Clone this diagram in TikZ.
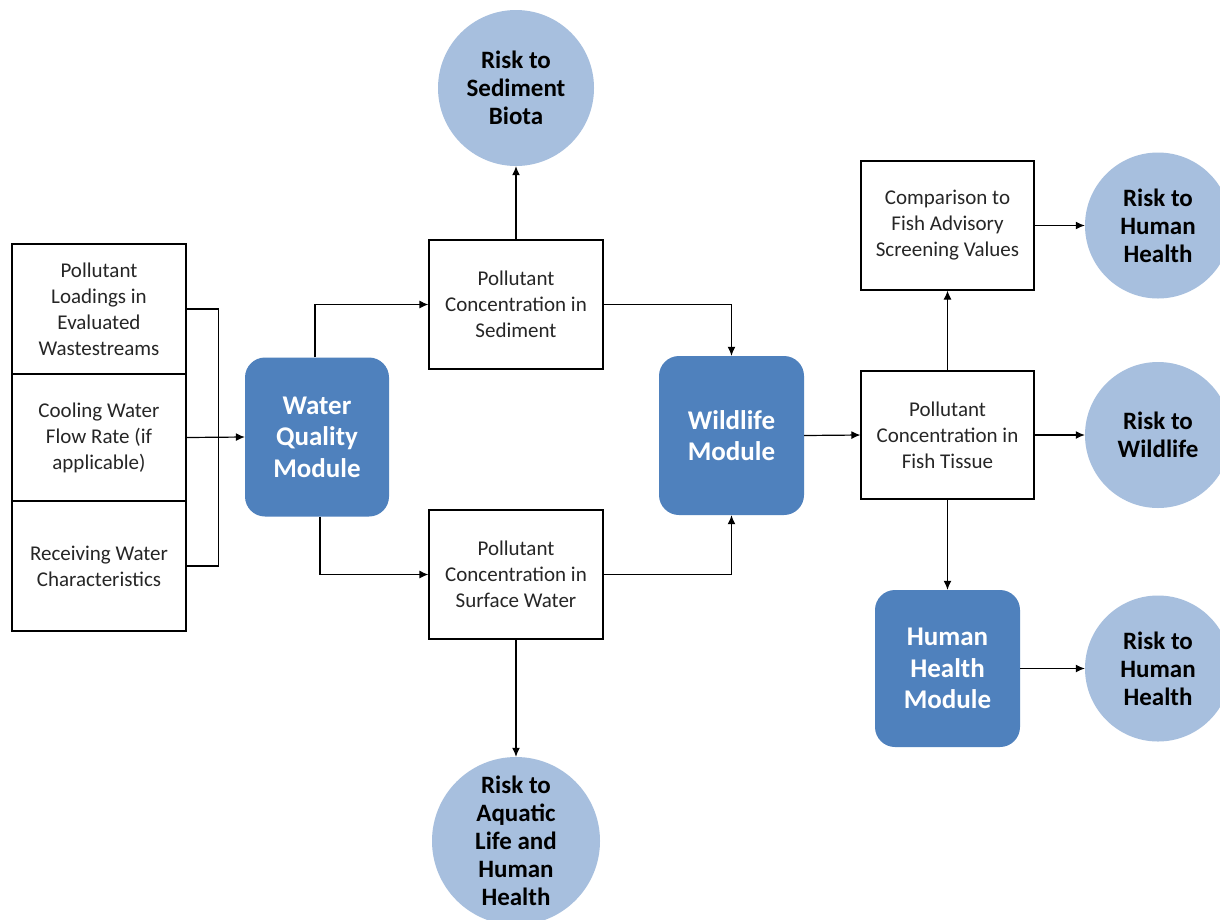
\documentclass[tikz,border=0pt]{standalone}
\usepackage{fontspec}
\setmainfont{Carlito}
\usetikzlibrary{arrows.meta}
\definecolor{modblue}{HTML}{4F81BD}
\definecolor{riskblue}{HTML}{A7BFDE}
\definecolor{boxtext}{HTML}{262626}
\begin{document}
\begin{tikzpicture}[x=1pt,y=-1pt,
  box/.style={draw=black,line width=1.2pt,fill=white,minimum width=174pt,minimum height=129pt,align=center,inner sep=0pt,text=boxtext,font=\fontsize{21}{26}\selectfont},
  module/.style={fill=modblue,rounded corners=20pt,minimum width=145pt,minimum height=159pt,align=center,inner sep=0pt,text=white,font=\fontsize{27}{31.5}\selectfont\bfseries},
  risk/.style={circle,fill=riskblue,minimum size=146pt,inner sep=0pt,align=center,text=black,font=\fontsize{25}{28}\selectfont\bfseries},
  conn/.style={line width=1.2pt,-{Latex[length=9pt,width=8pt]}},
  plainline/.style={line width=1.2pt}]
\useasboundingbox (0,0) rectangle (1220,919);
\fill[white] (0,0) rectangle (1220,919);
% inputs
\node[box,minimum height=130pt] (in1) at (99,309) {Pollutant\\Loadings in\\Evaluated\\Wastestreams};
\node[box,minimum height=127pt] (in2) at (99,437.5) {Cooling Water\\Flow Rate (if\\applicable)};
\node[box,minimum height=130pt] (in3) at (99,566) {Receiving Water\\Characteristics};
% modules
\node[module,minimum width=144pt] (wq) at (317,437) {Water\\Quality\\Module};
\node[module] (wl) at (731.5,435.5) {Wildlife\\Module};
\node[module,minimum height=157pt] (hh) at (947.5,668.5) {Human\\Health\\Module};
% boxes
\node[box] (sed) at (516,304.5) {Pollutant\\Concentration in\\Sediment};
\node[box] (sw) at (516,574.5) {Pollutant\\Concentration in\\Surface Water};
\node[box,minimum width=173pt,minimum height=128pt] (fish) at (947.5,435) {Pollutant\\Concentration in\\Fish Tissue};
\node[box,minimum width=173pt] (comp) at (947.5,225.5) {Comparison to\\Fish Advisory\\Screening Values};
% risks
\node[risk,minimum size=156pt] (rsb) at (516,88) {Risk to\\Sediment\\Biota};
\node[risk,minimum size=168pt] (ral) at (516,841) {Risk to\\Aquatic\\Life and\\Human\\Health};
\node[risk] (rhh1) at (1158,225.5) {Risk to\\Human\\Health};
\node[risk] (rwl) at (1158,435) {Risk to\\Wildlife};
\node[risk] (rhh2) at (1158,668.5) {Risk to\\Human\\Health};
% connectors
\draw[plainline] (in1.east) -- ++(32,0) |- (in3.east);
\draw[conn] (in2.east) -- (wq.west);
\draw[conn] ([xshift=-2pt]wq.north) |- (sed.west);
\draw[conn] ([xshift=3pt]wq.south) |- (sw.west);
\draw[conn] (sed.north) -- (rsb.south);
\draw[conn] (sed.east) -| (wl.north);
\draw[conn] (sw.east) -| (wl.south);
\draw[conn] (sw.south) -- (ral.north);
\draw[conn] (wl.east) -- (fish.west);
\draw[conn] (fish.north) -- (comp.south);
\draw[conn] (comp.east) -- (rhh1.west);
\draw[conn] (fish.east) -- (rwl.west);
\draw[conn] (fish.south) -- (hh.north);
\draw[conn] (hh.east) -- (rhh2.west);
\end{tikzpicture}
\end{document}
